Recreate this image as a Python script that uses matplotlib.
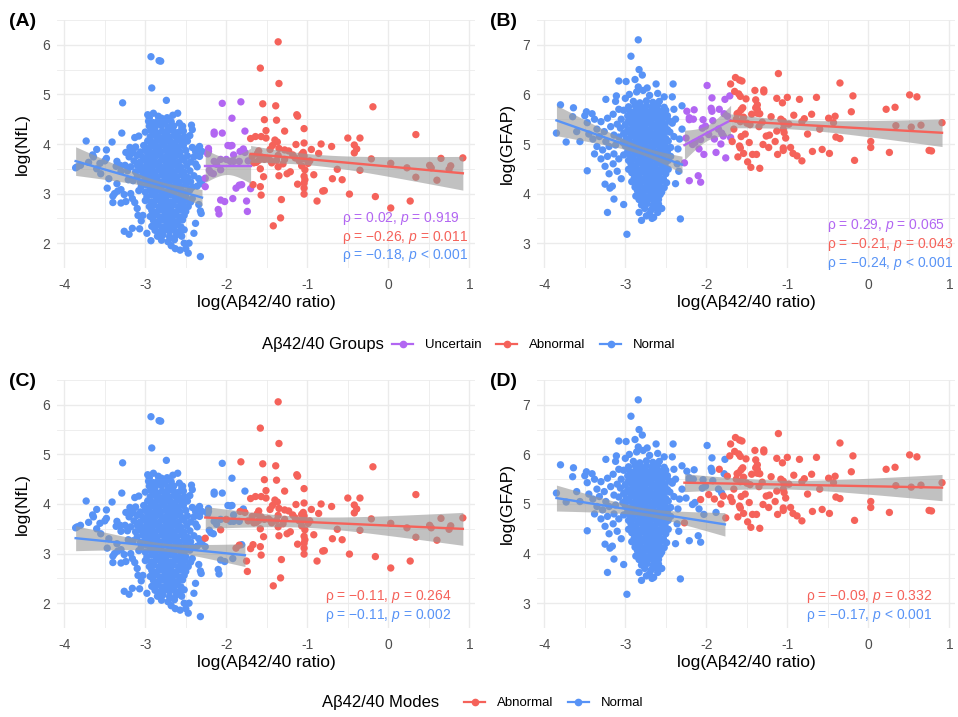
import numpy as np
import matplotlib
matplotlib.use("Agg")
import matplotlib.pyplot as plt
from matplotlib.lines import Line2D

plt.rcParams['font.family'] = ['Liberation Sans', 'DejaVu Sans']
plt.rcParams['mathtext.fontset'] = 'custom'
plt.rcParams['mathtext.rm'] = 'Liberation Sans'
plt.rcParams['mathtext.it'] = 'Liberation Sans:italic'
plt.rcParams['axes.unicode_minus'] = False

BLUE = '#5893F6'
RED = '#F5625A'
PURPLE = '#B266F2'

# ---- data: (log Ab42/40, log NfL) ----
nfl_normal = [
    # scattered
    (-2.93,5.76),(-2.83,5.68),(-2.81,5.67),(-2.92,5.13),(-3.28,4.83),(-2.74,4.88),(-2.60,4.62),
    (-2.97,4.59),(-2.95,4.53),(-2.84,4.56),(-2.80,4.52),(-2.73,4.53),(-2.54,4.36),(-2.43,4.38),
    (-2.42,4.29),(-3.29,4.22),(-3.13,4.13),(-3.73,4.06),(-3.41,4.04),(-3.48,3.88),(-3.65,3.78),
    (-3.64,3.74),(-3.19,3.93),(-3.24,3.83),(-3.17,3.81),(-3.50,3.66),(-3.48,3.71),(-3.36,3.55),
    (-3.31,3.57),(-3.25,3.57),(-3.84,3.54),(-3.80,3.57),(-3.86,3.52),(-3.21,3.28),(-3.47,3.11),
    (-3.38,3.00),(-3.40,2.95),(-3.34,3.05),(-3.30,3.08),(-3.26,2.98),(-3.40,2.82),(-3.30,2.81),
    (-3.24,2.84),(-3.16,2.90),(-3.13,2.82),(-3.09,2.56),(-3.03,2.56),(-3.26,2.24),(-3.20,2.18),
    (-3.16,2.30),(-3.07,2.29),(-2.63,1.89),(-2.57,1.86),(-2.50,1.89),(-2.47,1.80),(-2.32,1.73),
    (-2.46,2.00),(-2.52,2.00),(-2.34,2.78),(-2.32,2.65),(-2.31,2.60),(-2.38,2.40),(-2.36,3.15),
    (-2.32,3.20),(-2.30,3.25),(-2.34,3.30),(-2.36,3.90),(-2.33,3.95),(-2.30,3.85),(-2.33,3.75),
    (-3.55,3.40),(-3.60,3.50),(-3.45,3.30),(-3.70,3.63),(-3.35,3.65),(-3.30,3.45),(-3.60,3.89),
    (-3.56,3.61),(-3.35,3.20),(-3.18,3.00),(-3.10,2.70),(-3.05,2.45),(-2.98,2.20),(-2.93,2.05),
    (-2.68,1.95),(-2.40,2.20),(-2.42,2.90),(-2.38,3.60),(-2.90,4.62),(-2.66,4.58),(-2.85,4.40),
    # dense core
    (-2.96,4.46),(-2.90,4.43),(-2.84,4.47),(-2.76,4.44),(-2.68,4.45),(-2.58,4.42),
    (-2.95,4.36),(-2.88,4.33),(-2.80,4.37),(-2.72,4.34),(-2.65,4.36),(-2.55,4.32),
    (-3.00,4.24),(-2.93,4.27),(-2.86,4.23),(-2.79,4.26),(-2.73,4.24),(-2.66,4.27),(-2.60,4.23),(-2.53,4.26),
    (-3.08,4.16),(-2.94,4.14),(-2.88,4.17),(-2.82,4.13),(-2.76,4.16),(-2.70,4.14),(-2.64,4.17),(-2.58,4.13),
    (-2.52,4.15),(-2.45,4.17),
    (-2.97,4.06),(-2.91,4.03),(-2.85,4.07),(-2.79,4.04),(-2.73,4.06),(-2.67,4.03),(-2.61,4.07),(-2.55,4.04),
    (-2.48,4.06),
    (-3.12,3.94),(-3.02,3.97),(-2.95,3.93),(-2.89,3.96),(-2.83,3.94),(-2.77,3.97),(-2.71,3.93),(-2.65,3.96),
    (-2.59,3.94),(-2.53,3.97),(-2.42,3.93),
    (-3.15,3.86),(-3.06,3.84),(-3.00,3.87),(-2.93,3.83),(-2.87,3.86),(-2.81,3.84),(-2.75,3.87),(-2.69,3.83),
    (-2.63,3.86),(-2.57,3.84),(-2.50,3.87),(-2.38,3.85),
    (-3.20,3.74),(-3.10,3.77),(-3.03,3.73),(-2.97,3.76),(-2.91,3.74),(-2.85,3.77),(-2.79,3.73),(-2.73,3.76),
    (-2.67,3.74),(-2.61,3.77),(-2.55,3.73),(-2.48,3.76),(-2.40,3.74),
    (-3.14,3.66),(-3.07,3.63),(-3.01,3.67),(-2.95,3.64),(-2.89,3.66),(-2.83,3.63),(-2.77,3.67),(-2.71,3.64),
    (-2.65,3.66),(-2.59,3.63),(-2.52,3.67),(-2.44,3.64),
    (-3.18,3.54),(-3.10,3.57),(-3.04,3.53),(-2.98,3.56),(-2.92,3.54),(-2.86,3.57),(-2.80,3.53),(-2.74,3.56),
    (-2.68,3.54),(-2.62,3.57),(-2.56,3.53),(-2.49,3.56),(-2.36,3.54),
    (-3.22,3.46),(-3.12,3.44),(-3.06,3.47),(-3.00,3.43),(-2.94,3.46),(-2.88,3.44),(-2.82,3.47),(-2.76,3.43),
    (-2.70,3.46),(-2.64,3.44),(-2.58,3.47),(-2.52,3.43),(-2.45,3.46),
    (-3.10,3.34),(-3.03,3.37),(-2.97,3.33),(-2.91,3.36),(-2.85,3.34),(-2.79,3.37),(-2.73,3.33),(-2.67,3.36),
    (-2.61,3.34),(-2.55,3.37),(-2.48,3.33),(-2.40,3.36),
    (-3.15,3.26),(-3.06,3.23),(-3.00,3.27),(-2.94,3.24),(-2.88,3.26),(-2.82,3.23),(-2.76,3.27),(-2.70,3.24),
    (-2.64,3.26),(-2.58,3.23),(-2.52,3.27),(-2.44,3.24),
    (-3.05,3.14),(-2.98,3.17),(-2.92,3.13),(-2.86,3.16),(-2.80,3.14),(-2.74,3.17),(-2.68,3.13),(-2.62,3.16),
    (-2.56,3.14),(-2.50,3.17),(-2.42,3.13),
    (-3.08,3.06),(-3.00,3.03),(-2.94,3.07),(-2.88,3.04),(-2.82,3.06),(-2.76,3.03),(-2.70,3.07),(-2.64,3.04),
    (-2.58,3.06),(-2.52,3.03),(-2.45,3.07),
    (-2.98,2.94),(-2.92,2.97),(-2.86,2.93),(-2.80,2.96),(-2.74,2.94),(-2.68,2.97),(-2.62,2.93),(-2.56,2.96),
    (-2.50,2.94),
    (-3.00,2.86),(-2.93,2.83),(-2.87,2.87),(-2.81,2.84),(-2.75,2.86),(-2.69,2.83),(-2.63,2.87),(-2.57,2.84),
    (-2.51,2.86),(-2.44,2.83),
    (-2.95,2.74),(-2.89,2.77),(-2.83,2.73),(-2.77,2.76),(-2.71,2.74),(-2.65,2.77),(-2.59,2.73),(-2.53,2.76),
    (-2.47,2.74),
    (-2.92,2.66),(-2.86,2.63),(-2.80,2.67),(-2.74,2.64),(-2.68,2.66),(-2.62,2.63),(-2.56,2.67),(-2.50,2.64),
    (-2.94,2.54),(-2.88,2.57),(-2.82,2.53),(-2.76,2.56),(-2.70,2.54),(-2.64,2.57),(-2.58,2.53),(-2.52,2.56),
    (-2.90,2.46),(-2.84,2.43),(-2.78,2.47),(-2.72,2.44),(-2.66,2.46),(-2.60,2.43),(-2.54,2.47),
    (-2.92,2.34),(-2.86,2.37),(-2.80,2.33),(-2.74,2.36),(-2.68,2.34),(-2.62,2.37),(-2.56,2.33),
    (-2.88,2.26),(-2.82,2.23),(-2.76,2.27),(-2.70,2.24),(-2.64,2.26),(-2.58,2.23),(-2.52,2.27),
    (-2.85,2.14),(-2.78,2.17),(-2.70,2.13),(-2.62,2.16),(-2.55,2.14),
    (-2.80,2.06),(-2.72,2.03),(-2.64,2.07),
]

nfl_uncertain = [
    (-2.05,4.82),(-1.82,4.85),(-1.93,4.52),(-2.15,4.24),(-2.15,4.20),(-2.05,4.22),(-1.77,4.26),
    (-2.22,3.91),(-2.22,3.85),(-2.23,3.80),(-1.98,3.97),(-1.95,3.96),(-1.93,3.97),(-1.83,3.85),
    (-1.79,3.90),(-1.77,3.83),(-1.91,3.78),(-2.00,3.69),(-2.07,3.69),(-2.15,3.65),(-2.12,3.59),
    (-2.07,3.48),(-1.95,3.65),(-1.91,3.65),(-1.84,3.65),(-1.73,3.66),(-2.21,3.47),(-2.19,3.42),
    (-2.16,3.40),(-2.26,3.31),(-2.26,3.14),(-1.88,3.11),(-1.84,3.17),(-1.81,3.18),(-1.70,3.10),
    (-1.92,2.90),(-2.07,2.87),(-2.02,2.84),(-1.75,2.85),(-2.10,2.68),(-2.09,2.59),(-1.74,2.64),
]
# mode each uncertain point falls into in panel C (N = Normal, A = Abnormal)
nfl_uncertain_mode = ['N','A','N','N','N','N','N','N','N','N','N','N','N','A',
                      'N','A','N','A','N','N','N','A','N','N','N','A','N','N',
                      'N','A','N','A','A','N','A','N','N','N','A','N','N','A']

nfl_abnormal = [
    (-1.36,6.06),(-1.58,5.53),(-1.35,5.22),(-0.19,4.75),(-1.55,4.81),(-1.39,4.77),(-1.13,4.59),
    (-1.12,4.56),(-1.53,4.49),(-1.38,4.48),(-1.51,4.27),(-1.28,4.26),(-1.04,4.31),(0.34,4.19),
    (-1.70,4.11),(-1.64,4.15),(-1.57,4.15),(-1.51,4.12),(-1.40,4.08),(-1.37,4.04),(-0.50,4.12),
    (-0.35,4.12),(-1.14,3.99),(-1.04,4.02),(-0.83,4.00),(-0.70,3.95),(-0.42,3.98),(-0.39,3.90),
    (-0.42,3.82),(-0.95,3.89),(-0.86,3.81),(-1.60,3.86),(-1.46,3.89),(-1.43,3.97),(-1.35,3.91),
    (-1.28,3.88),(-1.23,3.86),(-1.05,3.83),(-1.04,3.76),(-1.04,3.70),(-1.07,3.79),(-0.99,3.61),
    (-1.07,3.56),(-1.03,3.48),(-1.04,3.35),(-1.03,3.28),(-1.04,3.21),(-1.04,3.11),(-1.04,2.99),
    (-1.62,3.80),(-1.57,3.74),(-1.60,3.67),(-1.63,3.63),(-1.58,3.50),(-1.54,3.34),(-1.58,3.14),
    (-1.57,2.97),(-1.67,3.18),(-1.35,3.36),(-1.25,3.40),(-1.21,3.44),(-1.32,2.88),(-1.33,2.51),
    (-1.42,2.35),(-1.12,3.19),(-0.92,3.38),(-0.88,2.85),(-0.81,3.05),(-0.79,3.06),(-0.69,3.30),
    (-0.57,3.28),(-0.63,3.49),(-0.48,2.99),(-0.35,3.47),(-0.21,3.70),(-0.16,2.94),(0.03,3.61),
    (0.03,2.71),(0.23,3.52),(0.27,2.85),(0.34,3.33),(0.51,3.57),(0.53,3.52),(0.60,3.27),
    (0.65,3.71),(0.75,3.49),(0.77,3.56),(0.92,3.72),(-1.45,3.66),(-1.38,3.67),(-1.28,3.69),
    (-1.36,3.77),(-1.53,3.69),(-1.36,3.54),(-1.68,3.75),(-1.66,3.62),(-1.18,3.78),(-1.15,3.72),
    (-1.48,3.70),(-1.44,3.62),(-1.30,3.60),(-0.97,3.66),(-1.10,3.66),
]

# ---- (log Ab42/40, log GFAP) ----
gfap_normal = [
    # scattered
    (-2.84,7.10),(-2.93,6.77),(-2.83,6.50),(-2.79,6.39),(-3.08,6.27),(-2.99,6.26),(-2.88,6.30),
    (-2.41,6.21),(-2.62,6.21),(-2.73,6.13),(-2.84,6.15),(-3.24,5.90),(-3.11,5.97),(-3.12,5.86),
    (-2.42,5.95),(-3.80,5.79),(-3.64,5.73),(-3.65,5.55),(-3.48,5.65),(-3.50,5.57),(-3.41,5.61),
    (-3.47,5.43),(-3.85,5.22),(-3.73,5.04),(-2.30,5.77),(-3.47,4.46),(-3.25,4.19),(-3.19,4.11),
    (-3.16,4.15),(-3.14,3.89),(-3.22,3.62),(-3.02,3.78),(-2.98,3.18),(-2.80,3.46),(-2.74,3.55),
    (-2.67,3.50),(-2.32,3.49),(-2.36,4.60),(-2.34,4.45),(-2.38,4.20),(-2.30,5.30),(-2.33,5.10),
    (-2.35,4.90),(-2.38,5.50),(-2.40,5.70),
    (-3.38,5.50),(-3.30,5.45),(-3.22,5.52),(-3.15,5.60),(-3.08,5.70),(-3.35,5.30),(-3.26,5.25),
    (-3.18,5.35),(-3.10,5.40),(-3.40,5.10),(-3.32,5.15),(-3.24,5.05),(-3.14,5.18),(-3.35,4.95),
    (-3.28,4.88),(-3.20,4.95),(-3.12,4.98),(-3.38,4.80),(-3.30,4.70),(-3.22,4.75),(-3.14,4.80),
    (-3.08,4.70),(-3.25,4.55),(-3.15,4.60),(-3.10,4.45),(-3.20,4.40),(-3.05,4.30),(-3.56,5.05),
    (-3.60,5.25),(-3.45,5.20),
    (-2.95,6.00),(-2.86,6.05),(-2.70,5.98),(-2.60,6.02),(-2.52,5.95),(-2.78,6.08),(-3.00,5.92),
    (-2.70,3.60),(-2.60,3.62),(-2.55,3.70),(-2.83,3.62),(-2.65,3.52),
    # dense core
    (-2.90,5.86),(-2.82,5.83),(-2.74,5.87),(-2.66,5.84),(-2.58,5.86),
    (-2.96,5.75),(-2.88,5.78),(-2.81,5.74),(-2.74,5.77),(-2.67,5.75),(-2.60,5.78),(-2.52,5.74),
    (-3.02,5.68),(-2.94,5.65),(-2.87,5.69),(-2.81,5.66),(-2.75,5.68),(-2.69,5.65),(-2.63,5.69),(-2.57,5.66),
    (-2.50,5.68),
    (-2.97,5.57),(-2.91,5.60),(-2.85,5.56),(-2.79,5.59),(-2.73,5.57),(-2.67,5.60),(-2.61,5.56),(-2.55,5.59),
    (-2.48,5.57),
    (-3.05,5.50),(-2.96,5.47),(-2.90,5.51),(-2.84,5.48),(-2.78,5.50),(-2.72,5.47),(-2.66,5.51),(-2.60,5.48),
    (-2.54,5.50),(-2.46,5.47),
    (-3.00,5.39),(-2.93,5.42),(-2.87,5.38),(-2.81,5.41),(-2.75,5.39),(-2.69,5.42),(-2.63,5.38),(-2.57,5.41),
    (-2.51,5.39),(-2.42,5.42),
    (-3.06,5.32),(-2.97,5.29),(-2.91,5.33),(-2.85,5.30),(-2.79,5.32),(-2.73,5.29),(-2.67,5.33),(-2.61,5.30),
    (-2.55,5.32),(-2.48,5.29),
    (-3.02,5.21),(-2.95,5.24),(-2.89,5.20),(-2.83,5.23),(-2.77,5.21),(-2.71,5.24),(-2.65,5.20),(-2.59,5.23),
    (-2.52,5.21),(-2.45,5.24),
    (-3.08,5.14),(-2.99,5.11),(-2.93,5.15),(-2.87,5.12),(-2.81,5.14),(-2.75,5.11),(-2.69,5.15),(-2.63,5.12),
    (-2.57,5.14),(-2.50,5.11),(-2.40,5.15),
    (-3.03,5.03),(-2.96,5.06),(-2.90,5.02),(-2.84,5.05),(-2.78,5.03),(-2.72,5.06),(-2.66,5.02),(-2.60,5.05),
    (-2.54,5.03),(-2.47,5.06),
    (-3.00,4.96),(-2.93,4.93),(-2.87,4.97),(-2.81,4.94),(-2.75,4.96),(-2.69,4.93),(-2.63,4.97),(-2.57,4.94),
    (-2.51,4.96),(-2.44,4.93),
    (-2.97,4.85),(-2.91,4.88),(-2.85,4.84),(-2.79,4.87),(-2.73,4.85),(-2.67,4.88),(-2.61,4.84),(-2.55,4.87),
    (-2.48,4.85),
    (-3.02,4.78),(-2.94,4.75),(-2.88,4.79),(-2.82,4.76),(-2.76,4.78),(-2.70,4.75),(-2.64,4.79),(-2.58,4.76),
    (-2.52,4.78),(-2.44,4.75),
    (-2.96,4.67),(-2.90,4.70),(-2.84,4.66),(-2.78,4.69),(-2.72,4.67),(-2.66,4.70),(-2.60,4.66),(-2.54,4.69),
    (-2.47,4.67),
    (-2.93,4.60),(-2.87,4.57),(-2.81,4.61),(-2.75,4.58),(-2.69,4.60),(-2.63,4.57),(-2.57,4.61),(-2.51,4.58),
    (-2.96,4.49),(-2.90,4.52),(-2.84,4.48),(-2.78,4.51),(-2.72,4.49),(-2.66,4.52),(-2.60,4.48),(-2.54,4.51),
    (-2.47,4.49),
    (-2.92,4.42),(-2.86,4.39),(-2.80,4.43),(-2.74,4.40),(-2.68,4.42),(-2.62,4.39),(-2.56,4.43),(-2.50,4.40),
    (-2.89,4.31),(-2.83,4.34),(-2.77,4.30),(-2.71,4.33),(-2.65,4.31),(-2.59,4.34),(-2.53,4.30),
    (-2.92,4.24),(-2.86,4.21),(-2.80,4.25),(-2.74,4.22),(-2.68,4.24),(-2.62,4.21),(-2.56,4.25),(-2.49,4.22),
    (-2.88,4.13),(-2.82,4.16),(-2.76,4.12),(-2.70,4.15),(-2.64,4.13),(-2.58,4.16),(-2.52,4.12),
    (-2.85,4.06),(-2.79,4.03),(-2.73,4.07),(-2.67,4.04),(-2.61,4.06),(-2.55,4.03),
    (-2.87,3.95),(-2.81,3.98),(-2.75,3.94),(-2.69,3.97),(-2.63,3.95),(-2.57,3.98),
    (-2.83,3.88),(-2.77,3.85),(-2.71,3.89),(-2.65,3.86),(-2.59,3.88),
    (-2.80,3.77),(-2.73,3.80),(-2.66,3.76),(-2.59,3.79),
    (-2.76,3.70),(-2.68,3.67),(-2.62,3.71),
]

gfap_uncertain = [
    (-1.99,6.18),(-1.93,5.93),(-1.77,5.90),(-1.71,5.97),(-2.15,5.69),(-2.24,5.66),(-1.94,5.72),
    (-1.93,5.66),(-1.84,5.70),(-2.21,5.53),(-2.16,5.50),(-2.21,5.49),(-2.04,5.49),(-1.92,5.47),
    (-1.78,5.61),(-1.74,5.56),(-2.05,5.32),(-2.01,5.36),(-2.25,5.12),(-2.14,5.03),(-2.17,4.99),
    (-1.97,5.19),(-1.90,5.10),(-1.85,5.30),(-1.81,5.22),(-1.79,5.16),(-2.07,5.09),(-2.09,4.90),
    (-2.03,4.79),(-1.70,5.13),(-1.82,5.00),(-1.76,4.72),(-1.88,4.83),(-2.27,4.62),(-2.21,4.26),
    (-2.10,4.36),(-2.07,4.23),
]
# mode each uncertain point falls into in panel D
gfap_uncertain_mode = ['N','N','N','A','N','N','N','N','A','N','N','N','N','N',
                       'N','A','N','N','N','N','N','A','A','N','N','A','A','N',
                       'N','A','A','A','N','A','N','N','N']

gfap_abnormal = [
    (-1.11,6.42),(-0.35,6.23),(-1.64,6.34),(-1.59,6.29),(-1.56,6.27),(-1.70,6.21),(-1.65,6.06),
    (-1.60,6.01),(-1.58,5.96),(-1.51,5.91),(-1.40,6.08),(-1.29,6.09),(-1.29,6.05),(-1.13,5.92),
    (-1.00,5.94),(-1.06,5.83),(-0.85,5.90),(-0.64,5.94),(-0.19,5.97),(0.51,5.99),(0.60,5.95),
    (-1.39,5.89),(-1.37,5.79),(-1.39,5.73),(-1.37,5.70),(-1.55,5.73),(-1.57,5.69),(-1.60,5.63),
    (-1.37,5.62),(-1.34,5.61),(-1.62,5.61),(-1.54,5.54),(-1.58,5.45),(-1.50,5.42),(-1.46,5.39),
    (-1.35,5.35),(-0.70,5.60),(-0.79,5.51),(-0.82,5.45),(-0.49,5.52),(-0.41,5.56),(-0.43,5.43),
    (-0.21,5.65),(0.22,5.70),(0.33,5.74),(0.34,5.37),(0.53,5.34),(0.65,5.38),(0.91,5.43),
    (-1.05,5.46),(-1.04,5.39),(-1.05,5.30),(-1.04,5.23),(-1.13,5.26),(-1.26,5.16),(-1.22,5.18),
    (-1.57,5.15),(-1.30,4.99),(-1.23,4.93),(-1.12,4.79),(-1.05,4.87),(-1.05,4.92),(-0.96,4.93),
    (-0.93,4.81),(-0.88,4.76),(-0.82,4.66),(-1.59,4.96),(-1.58,4.92),(-1.54,4.81),(-1.61,4.74),
    (-1.47,5.03),(-1.43,4.79),(-1.38,4.79),(-1.45,4.53),(-1.34,4.51),(-0.69,4.85),(-0.57,4.89),
    (-0.48,4.81),(-0.40,5.14),(-0.35,5.11),(0.03,5.05),(0.03,4.93),(-0.17,4.67),(0.26,4.83),
    (0.75,4.87),(0.78,4.86),(-1.66,5.30),(-1.63,5.50),(-1.52,5.20),(-1.44,5.60),(-1.31,5.44),
    (-1.20,5.55),(-1.08,5.50),(-0.98,5.40),(-0.92,5.58),(-1.15,5.05),(-1.02,5.12),(-0.75,5.20),
    (-0.60,5.30),(-1.68,5.05),(-1.49,4.64),
]

# fitted lines: (intercept, slope), in the same order as the groups
fits_a = [(1.837, -0.471), (3.560, 0.000), (3.547, -0.149)]
fits_b = [(3.262, -0.575), (6.973, 0.879), (5.310, -0.092)]
fits_c = [(2.678, -0.164), (3.565, -0.072)]
fits_d = [(4.138, -0.255), (5.359, -0.031)]

panel_a_stats = ['ρ = 0.02, $\\mathit{p}$ = 0.919', 'ρ = \u22120.26, $\\mathit{p}$ = 0.011',
                 'ρ = \u22120.18, $\\mathit{p}$ < 0.001']
panel_b_stats = ['ρ = 0.29, $\\mathit{p}$ = 0.065', 'ρ = \u22120.21, $\\mathit{p}$ = 0.043',
                 'ρ = \u22120.24, $\\mathit{p}$ < 0.001']
panel_c_stats = ['ρ = \u22120.11, $\\mathit{p}$ = 0.264', 'ρ = \u22120.11, $\\mathit{p}$ = 0.002']
panel_d_stats = ['ρ = \u22120.09, $\\mathit{p}$ = 0.332', 'ρ = \u22120.17, $\\mathit{p}$ < 0.001']


def split_modes(normal, uncertain, modes, abnormal):
    norm = list(normal) + [p for p, m in zip(uncertain, modes) if m == 'N']
    abn = list(abnormal) + [p for p, m in zip(uncertain, modes) if m == 'A']
    return norm, abn


def lm_band(pts, coef):
    # confidence band of the fitted line, spread taken from the residuals
    pts = np.array(pts)
    x, y = pts[:, 0], pts[:, 1]
    a, b = coef
    xs = np.linspace(x.min(), x.max(), 100)
    fit = a + b * xs
    n = len(x)
    s = np.sqrt(np.sum((y - (a + b * x)) ** 2) / (n - 2))
    se = s * np.sqrt(1.0 / n + (xs - x.mean()) ** 2 / np.sum((x - x.mean()) ** 2))
    t = 1.97 if n > 120 else 2.02
    return xs, fit, fit - t * se, fit + t * se


def draw_panel(ax, groups, fits, ylim, yticks, ylabel, ylab_x, stats, stat_x, stat_y):
    ax.set_xlim(-4.09, 1.07)
    ax.set_ylim(*ylim)
    for pts, col in groups:
        arr = np.array(pts)
        ax.scatter(arr[:, 0], arr[:, 1], s=28, color=col, edgecolors='none', zorder=2)
    for (pts, col), coef in zip(groups, fits):
        xs, fit, lo, hi = lm_band(pts, coef)
        ax.fill_between(xs, lo, hi, color='#999999', alpha=0.6, lw=0, zorder=3)
        ax.plot(xs, fit, color=col, lw=1.7, zorder=4)
    ax.set_xticks([-4, -3, -2, -1, 0, 1])
    ax.set_xticks(np.arange(-4, 1.01, 0.5), minor=True)
    ax.set_yticks(yticks)
    ax.set_yticks(np.arange(yticks[0] - 0.5, yticks[-1] + 0.51, 0.5), minor=True)
    ax.grid(which='major', color='#EBEBEB', lw=1.0, zorder=0)
    ax.grid(which='minor', color='#EBEBEB', lw=0.6, zorder=0)
    ax.set_axisbelow(True)
    for sp in ax.spines.values():
        sp.set_visible(False)
    ax.tick_params(which='both', length=0)
    ax.tick_params(axis='x', pad=7, labelsize=10, labelcolor='#4D4D4D')
    ax.tick_params(axis='y', pad=5, labelsize=10, labelcolor='#4D4D4D')
    ax.set_xlabel('log(Aβ42/40 ratio)', fontsize=12.5, va='center')
    ax.xaxis.set_label_coords(0.5, -0.141)
    ax.set_ylabel(ylabel, fontsize=12.5, va='center')
    ax.yaxis.set_label_coords(ylab_x, 0.5)
    # stats are listed uncertain, abnormal, normal (or abnormal, normal)
    order = [groups[1], groups[2], groups[0]] if len(groups) == 3 else [groups[1], groups[0]]
    for txt, (_, col), yy in zip(stats, order, stat_y):
        ax.text(stat_x, yy, txt, transform=ax.transAxes, color=col, fontsize=10,
                ha='left', va='center', zorder=5)


fig = plt.figure(figsize=(9.58, 7.17), dpi=100)
W, H = 958.0, 717.0
pw, ph = 418 / W, 248 / H

ax_a = fig.add_axes([57 / W, 1 - 268 / H, pw, ph])
ax_b = fig.add_axes([537 / W, 1 - 268 / H, pw, ph])
ax_c = fig.add_axes([57 / W, 1 - 628 / H, pw, ph])
ax_d = fig.add_axes([537 / W, 1 - 628 / H, pw, ph])

draw_panel(ax_a, [(nfl_normal, BLUE), (nfl_uncertain, PURPLE), (nfl_abnormal, RED)], fits_a,
           (1.55, 6.25), [2, 3, 4, 5, 6], 'log(NfL)', -0.084,
           panel_a_stats, 0.681, [0.2016, 0.125, 0.052])
draw_panel(ax_b, [(gfap_normal, BLUE), (gfap_uncertain, PURPLE), (gfap_abnormal, RED)], fits_b,
           (2.99, 7.27), [3, 4, 5, 6, 7], 'log(GFAP)', -0.072,
           panel_b_stats, 0.6945, [0.173, 0.096, 0.020])

nfl_norm_m, nfl_abn_m = split_modes(nfl_normal, nfl_uncertain, nfl_uncertain_mode, nfl_abnormal)
gfap_norm_m, gfap_abn_m = split_modes(gfap_normal, gfap_uncertain, gfap_uncertain_mode, gfap_abnormal)

draw_panel(ax_c, [(nfl_norm_m, BLUE), (nfl_abn_m, RED)], fits_c,
           (1.55, 6.25), [2, 3, 4, 5, 6], 'log(NfL)', -0.084,
           panel_c_stats, 0.641, [0.126, 0.052])
draw_panel(ax_d, [(gfap_norm_m, BLUE), (gfap_abn_m, RED)], fits_d,
           (2.99, 7.27), [3, 4, 5, 6, 7], 'log(GFAP)', -0.072,
           panel_d_stats, 0.643, [0.126, 0.052])

for lab, x, y in [('(A)', 9, 21), ('(B)', 490, 21), ('(C)', 9, 381), ('(D)', 490, 381)]:
    fig.text(x / W, 1 - y / H, lab, fontsize=14, fontweight='bold', ha='left', va='center')


def key(col):
    return Line2D([0], [0], color=col, lw=1.6, marker='o', markersize=4.5)


fig.text(262 / W, 1 - 345 / H, 'Aβ42/40 Groups', fontsize=12, ha='left', va='center')
fig.legend([key(PURPLE), key(RED), key(BLUE)], ['Uncertain', 'Abnormal', 'Normal'],
           loc='center left', bbox_to_anchor=(392 / W, 1 - 345 / H), ncol=3, frameon=False,
           fontsize=9.5, handlelength=1.6, handletextpad=0.9, columnspacing=1.1,
           borderaxespad=0, borderpad=0)

fig.text(322 / W, 1 - 703 / H, 'Aβ42/40 Modes', fontsize=12, ha='left', va='center')
fig.legend([key(RED), key(BLUE)], ['Abnormal', 'Normal'],
           loc='center left', bbox_to_anchor=(464 / W, 1 - 703 / H), ncol=2, frameon=False,
           fontsize=9.5, handlelength=1.6, handletextpad=0.9, columnspacing=1.1,
           borderaxespad=0, borderpad=0)

fig.savefig('out.png', dpi=100)
